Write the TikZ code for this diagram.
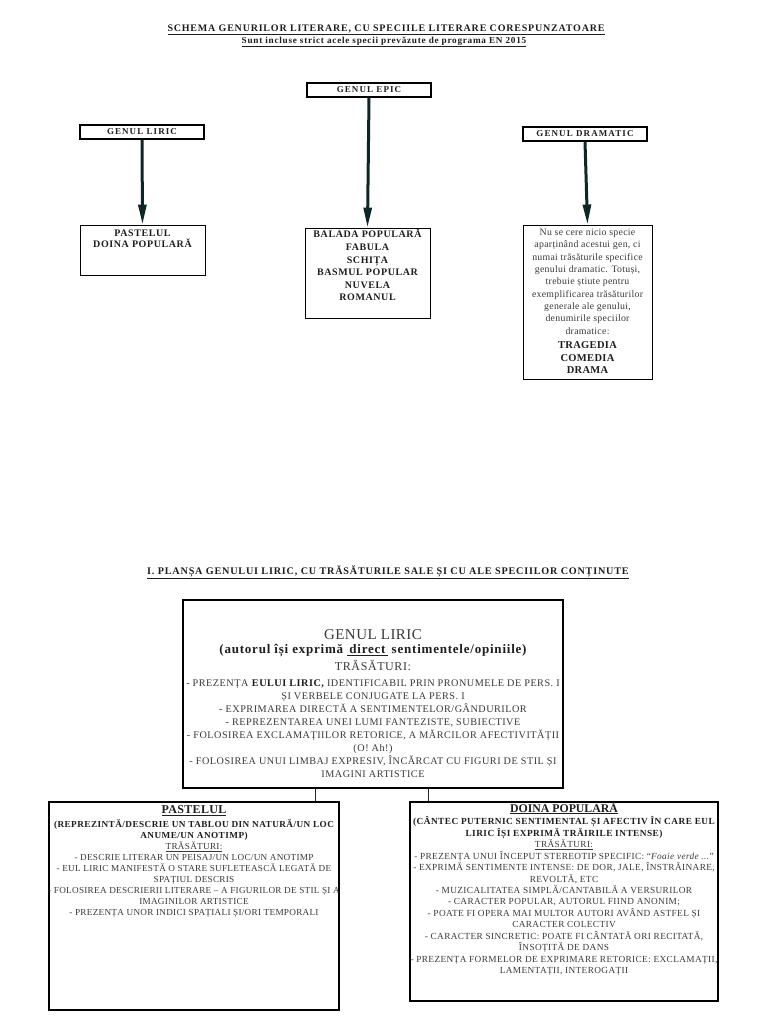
\documentclass[tikz,border=0pt]{standalone}
\usepackage{fontspec}
\setmainfont{Liberation Serif}
\newfontfamily\fA{Liberation Serif}[LetterSpace=8]
\newfontfamily\fB{Liberation Serif}[LetterSpace=6]
\newfontfamily\fC{Liberation Serif}[LetterSpace=5]
\newfontfamily\fF{Liberation Serif}[LetterSpace=4]
\newfontfamily\fD{Liberation Serif}[LetterSpace=3]
\newfontfamily\fE{Liberation Serif}[LetterSpace=12]
\usetikzlibrary{arrows.meta}
\definecolor{txt}{HTML}{3A3A3A}
\definecolor{dark}{HTML}{1E1E1E}
\definecolor{arr}{HTML}{0F2626}
\begin{document}
\begin{tikzpicture}[x=1pt,y=-1pt,
  gbox/.style={draw=black,line width=1.1pt,minimum width=124,minimum height=14,inner sep=0,
    font=\fE\bfseries\fontsize{9}{10}\selectfont,text=dark},
  frame/.style={draw=black,line width=0.9pt,inner sep=0},
  bigarrow/.style={draw=arr,line width=3pt,-{Triangle[width=8pt,length=20pt]}},
  link/.style={draw=black!85,line width=0.6pt},
  body/.style={align=center,inner sep=0,text=txt,anchor=north},
  ttl/.style={inner sep=0,text=dark,font=\fA\bfseries\fontsize{10}{12}\selectfont},
]
\useasboundingbox[fill=white] (0,0) rectangle (768,1024);

% titles
\node[ttl] (t1) at (386,30) {\underline{SCHEMA GENURILOR LITERARE, CU SPECIILE LITERARE CORESPUNZATOARE}};
\node[ttl,font=\fA\bfseries\fontsize{9.2}{11}\selectfont] (t2) at (384,42) {\underline{Sunt incluse strict acele specii prevăzute de programa EN 2015}};

% genre boxes
\node[gbox] (epic) at (369,90) {GENUL EPIC};
\node[gbox] (liric) at (142,132) {GENUL LIRIC};
\node[gbox] (dram) at (585,134) {GENUL DRAMATIC};

% species boxes
\node[frame,minimum width=125,minimum height=50] (lsp) at (142.5,250) {};
\node[body,font=\fB\bfseries\fontsize{10}{11}\selectfont,text=dark] (lspt) at (142.5,230) {PASTELUL\\DOINA POPULARĂ};

\node[frame,minimum width=125,minimum height=90] (esp) at (367.5,273) {};
\node[body,font=\fB\bfseries\fontsize{10}{12.6}\selectfont,text=dark] (espt) at (367.5,229) {BALADA POPULARĂ\\FABULA\\SCHIȚA\\BASMUL POPULAR\\NUVELA\\ROMANUL};

\node[frame,minimum width=129,minimum height=154] (dsp) at (587.5,302) {};
\node[body,font=\fD\fontsize{9.8}{12.3}\selectfont] (dspt) at (587.5,229)
 {Nu se cere nicio specie\\aparținând acestui gen, ci\\numai trăsăturile specifice\\genului dramatic. Totuși,\\trebuie știute pentru\\exemplificarea trăsăturilor\\generale ale genului,\\denumirile speciilor\\dramatice:\\[2.5pt]\textbf{\color{dark}\fontsize{10.5}{13.5}\selectfont TRAGEDIA}\\\textbf{\color{dark}\fontsize{10.5}{13.5}\selectfont COMEDIA}\\\textbf{\color{dark}\fontsize{10.5}{13.5}\selectfont DRAMA}};

% arrows
\draw[bigarrow] (liric.south) -- (lsp.north);
\draw[bigarrow] (epic.south) -- (esp.north);
\draw[bigarrow] (dram.south) -- (dsp.north);

% section title
\node[ttl,font=\fA\bfseries\fontsize{10.15}{12}\selectfont] (t3) at (388,572) {\underline{I. PLANȘA GENULUI LIRIC, CU TRĂSĂTURILE SALE ȘI CU ALE SPECIILOR CONȚINUTE}};

% main box
\node[frame,line width=1.1pt,minimum width=380,minimum height=188] (main) at (373,694) {};
\node[inner sep=0,text=txt,font=\fD\fontsize{15}{17}\selectfont] (mh) at (373,635) {GENUL LIRIC};
\node[inner sep=0,text=dark,font=\fB\bfseries\fontsize{13}{14}\selectfont] (ms) at (373,651) {(autorul își exprimă \underline{\,direct\,} sentimentele/opiniile)};
\node[inner sep=0,text=txt,font=\fC\fontsize{12}{13}\selectfont] (mt) at (373,666) {TRĂSĂTURI:};
\node[body,font=\fC\fontsize{10.2}{13}\selectfont] (mb) at (373,679.5)
 {- PREZENȚA \textbf{\color{dark}EULUI LIRIC,} IDENTIFICABIL PRIN PRONUMELE DE PERS. I\\
  ȘI VERBELE CONJUGATE LA PERS. I\\
  - EXPRIMAREA DIRECTĂ A SENTIMENTELOR/GÂNDURILOR\\
  - REPREZENTAREA UNEI LUMI FANTEZISTE, SUBIECTIVE\\
  - FOLOSIREA EXCLAMAȚIILOR RETORICE, A MĂRCILOR AFECTIVITĂȚII\\
  (O! Ah!)\\
  - FOLOSIREA UNUI LIMBAJ EXPRESIV, ÎNCĂRCAT CU FIGURI DE STIL ȘI\\
  IMAGINI ARTISTICE};

% sub boxes
\node[frame,line width=1.1pt,minimum width=290,minimum height=208] (pb) at (194,906) {};
\node[frame,line width=1.1pt,minimum width=308,minimum height=199] (db) at (564,901.5) {};

\coordinate (c1) at (315,795);
\coordinate (c2) at (428,795);
\draw[link] (c1 |- main.south) -- (c1 |- pb.north);
\draw[link] (c2 |- main.south) -- (c2 |- db.north);

% pastelul text
\node[inner sep=0,text=dark,font=\fD\bfseries\fontsize{12}{14}\selectfont] (ph) at (194,811) {\underline{PASTELUL}};
\node[body,font=\fD\fontsize{9.2}{11}\selectfont] (pt) at (194,819.5)
 {\textbf{\color{dark}\fC(REPREZINTĂ/DESCRIE UN TABLOU DIN NATURĂ/UN LOC}\\
  \textbf{\color{dark}\fC ANUME/UN ANOTIMP)}\\
  \underline{TRĂSĂTURI:}\\
  - DESCRIE LITERAR UN PEISAJ/UN LOC/UN ANOTIMP\\
  - EUL LIRIC MANIFESTĂ O STARE SUFLETEASCĂ LEGATĂ DE\\
  SPAȚIUL DESCRIS\\
  - FOLOSIREA DESCRIERII LITERARE – A FIGURILOR DE STIL ȘI A\\
  IMAGINILOR ARTISTICE\\
  - PREZENȚA UNOR INDICI SPAȚIALI ȘI/ORI TEMPORALI};

% doina text
\node[inner sep=0,text=dark,font=\bfseries\fontsize{11.8}{14}\selectfont] (dh) at (564,808) {\underline{DOINA POPULARĂ}};
\node[body,font=\fF\fontsize{9.3}{11.45}\selectfont] (dt) at (564,816.5)
 {\textbf{\color{dark}\fC(CÂNTEC PUTERNIC SENTIMENTAL ȘI AFECTIV ÎN CARE EUL}\\
  \textbf{\color{dark}\fC LIRIC ÎȘI EXPRIMĂ TRĂIRILE INTENSE)}\\
  \underline{TRĂSĂTURI:}\\
  - PREZENȚA UNUI ÎNCEPUT STEREOTIP SPECIFIC: “\textit{Foaie verde ...}”\\
  - EXPRIMĂ SENTIMENTE INTENSE: DE DOR, JALE, ÎNSTRĂINARE,\\
  REVOLTĂ, ETC\\
  - MUZICALITATEA SIMPLĂ/CANTABILĂ A VERSURILOR\\
  - CARACTER POPULAR, AUTORUL FIIND ANONIM;\\
  - POATE FI OPERA MAI MULTOR AUTORI AVÂND ASTFEL ȘI\\
  CARACTER COLECTIV\\
  - CARACTER SINCRETIC: POATE FI CÂNTATĂ ORI RECITATĂ,\\
  ÎNSOȚITĂ DE DANS\\
  - PREZENȚA FORMELOR DE EXPRIMARE RETORICE: EXCLAMAȚII,\\
  LAMENTAȚII, INTEROGAȚII};
\end{tikzpicture}
\end{document}
